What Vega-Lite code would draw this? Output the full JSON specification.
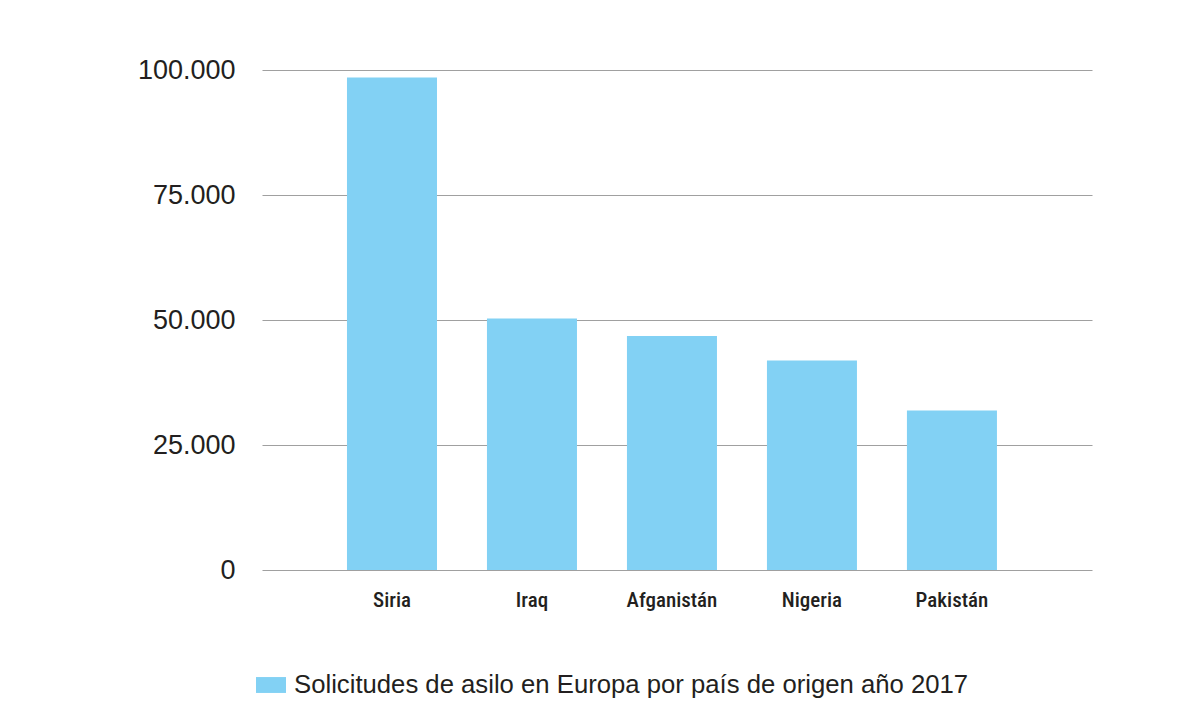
{
  "$schema": "https://vega.github.io/schema/vega-lite/v6.json",
  "width": 830,
  "height": 500,
  "autosize": {"type": "none"},
  "padding": {"left": 262, "top": 70, "right": 111, "bottom": 149},
  "background": "white",
  "data": {
    "values": [
      {"pais": "Siria", "solicitudes": 98500, "serie": "Solicitudes de asilo en Europa por país de origen año 2017"},
      {"pais": "Iraq", "solicitudes": 50300, "serie": "Solicitudes de asilo en Europa por país de origen año 2017"},
      {"pais": "Afganistán", "solicitudes": 46800, "serie": "Solicitudes de asilo en Europa por país de origen año 2017"},
      {"pais": "Nigeria", "solicitudes": 41900, "serie": "Solicitudes de asilo en Europa por país de origen año 2017"},
      {"pais": "Pakistán", "solicitudes": 31900, "serie": "Solicitudes de asilo en Europa por país de origen año 2017"}
    ]
  },
  "mark": {"type": "bar"},
  "encoding": {
    "x": {
      "field": "pais",
      "type": "nominal",
      "sort": null,
      "scale": {"paddingInner": 0.357, "paddingOuter": 0.643, "align": 0.472},
      "axis": {
        "title": null,
        "labelAngle": 0,
        "domain": false,
        "ticks": false,
        "labelPadding": 19,
        "labelFont": "Liberation Sans Narrow, Roboto Condensed, Liberation Sans",
        "labelFontSize": 21,
        "labelFontWeight": 500,
        "labelColor": "#231f20"
      }
    },
    "y": {
      "field": "solicitudes",
      "type": "quantitative",
      "scale": {"domain": [0, 100000]},
      "axis": {
        "title": null,
        "values": [0, 25000, 50000, 75000, 100000],
        "format": ",d",
        "domain": false,
        "ticks": false,
        "labelPadding": 27,
        "labelFont": "Liberation Sans",
        "labelFontSize": 27,
        "labelColor": "#231f20",
        "gridColor": "#a0a0a0",
        "gridWidth": 1.2
      }
    },
    "color": {
      "field": "serie",
      "type": "nominal",
      "scale": {"range": ["#82d1f4"]},
      "legend": {
        "title": null,
        "orient": "none",
        "legendX": -6,
        "legendY": 600,
        "symbolType": "M-1,-0.53H1V0.53H-1Z",
        "symbolSize": 900,
        "symbolStrokeWidth": 0,
        "labelFont": "Liberation Sans",
        "labelFontSize": 25.7,
        "labelColor": "#231f20",
        "labelOffset": 8,
        "labelLimit": 1000
      }
    }
  },
  "config": {
    "view": {"stroke": null},
    "locale": {
      "number": {"decimal": ",", "thousands": ".", "grouping": [3], "currency": ["", " €"]}
    }
  }
}
